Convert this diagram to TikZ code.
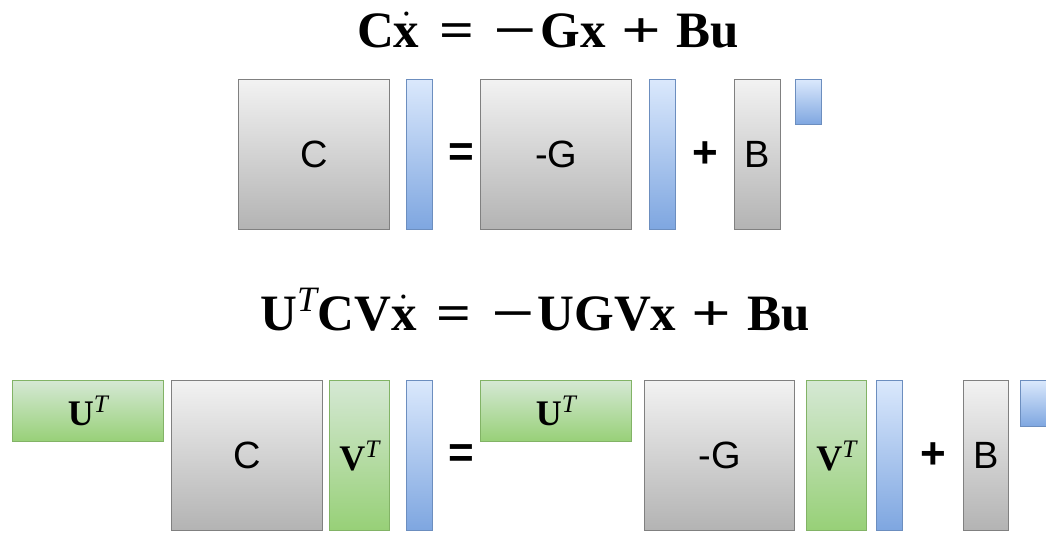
\RequirePackage{fix-cm}
\documentclass[tikz,border=0pt]{standalone}
\usepackage{amsmath}
\usepackage{graphicx}
\usepackage{fontspec}
\setmainfont{Liberation Serif}
\newfontfamily\helv{Liberation Sans}
\usetikzlibrary{positioning}
\definecolor{MatEdge}{HTML}{808080}
\definecolor{MatTop}{HTML}{F2F2F2}
\definecolor{MatBot}{HTML}{B3B3B3}
\definecolor{VecEdge}{HTML}{6C8EBF}
\definecolor{VecTop}{HTML}{DAE8FC}
\definecolor{VecBot}{HTML}{7EA6E0}
\definecolor{BasEdge}{HTML}{82B366}
\definecolor{BasTop}{HTML}{D5E8D4}
\definecolor{BasBot}{HTML}{97D077}

\newcommand{\supT}{^{\text{\itshape T}}}
\newcommand{\beq}{\mkern2mu\mathrel{\scalebox{1.2}[1]{\bfseries =}}\mkern2mu}
\newcommand{\bplus}{\mkern1.5mu\mathbin{\scalebox{1.37}[1]{\bfseries +}}\mkern1.5mu}
\newcommand{\bminus}{\mathord{\scalebox{1.5}[1]{\bfseries\symbol{"2212}}}\mkern1mu}
\newcommand{\fullsys}{$\mathbf{C}\dot{\mathbf{x}} \beq \bminus\mathbf{G}\mathbf{x} \bplus \mathbf{B}\mathbf{u}$}
\newcommand{\redsys}{$\mathbf{U}\supT\mathbf{C}\mathbf{V}\dot{\mathbf{x}} \beq \bminus\mathbf{U}\mathbf{G}\mathbf{V}\mathbf{x} \bplus \mathbf{B}\mathbf{u}$}

\tikzset{
  blk/.style={rectangle, anchor=north west, inner sep=0pt, line width=1.3pt},
  mat/.style={blk, draw=MatEdge, top color=MatTop, bottom color=MatBot,
              font=\helv\fontsize{38}{44}\selectfont},
  vec/.style={blk, draw=VecEdge, top color=VecTop, bottom color=VecBot},
  bas/.style={blk, draw=BasEdge, top color=BasTop, bottom color=BasBot,
              font=\fontsize{36}{42}\selectfont},
  op/.style={font=\helv\bfseries\fontsize{44}{50}\selectfont},
  eqn/.style={anchor=base, font=\fontsize{51}{58}\selectfont}
}

\begin{document}
\begin{tikzpicture}[x=1pt, y=-1pt]
  \useasboundingbox (0,0) rectangle (1046,533);

  % original system
  \node[eqn] (eq1) at (548,47) {\fullsys};
  \node[mat, minimum width=151, minimum height=150] (C1) at (238,79) {C};
  \node[vec, minimum width=26, minimum height=150] (xd1) at (406,79) {};
  \node[op] (is1) at (461,155) {=};
  \node[mat, minimum width=151, minimum height=150] (G1) at (480,79) {-G};
  \node[vec, minimum width=26, minimum height=150] (x1) at (649,79) {};
  \node[op] (plus1) at (705,155) {+};
  \node[mat, minimum width=46, minimum height=150] (B1) at (734,79) {B};
  \node[vec, minimum width=26, minimum height=45] (u1) at (795,79) {};

  % reduced system
  \node[eqn] (eq2) at (535,330) {\redsys};
  \node[bas, minimum width=151, minimum height=61] (Ul) at (12,380) {$\mathbf{U}\supT$};
  \node[mat, minimum width=151, minimum height=150] (C2) at (171,380) {C};
  \node[bas, minimum width=60, minimum height=150] (Vl) at (329,380) {$\mathbf{V}\supT$};
  \node[vec, minimum width=26, minimum height=150] (xd2) at (406,380) {};
  \node[op] (is2) at (461,456) {=};
  \node[bas, minimum width=151, minimum height=61] (Ur) at (480,380) {$\mathbf{U}\supT$};
  \node[mat, minimum width=150, minimum height=150] (G2) at (644,380) {-G};
  \node[bas, minimum width=60, minimum height=150] (Vr) at (806,380) {$\mathbf{V}\supT$};
  \node[vec, minimum width=26, minimum height=150] (x2) at (876,380) {};
  \node[op] (plus2) at (933,456) {+};
  \node[mat, minimum width=45, minimum height=150] (B2) at (963,380) {B};
  \node[vec, minimum width=28, minimum height=46] (u2) at (1020,380) {};
\end{tikzpicture}
\end{document}
